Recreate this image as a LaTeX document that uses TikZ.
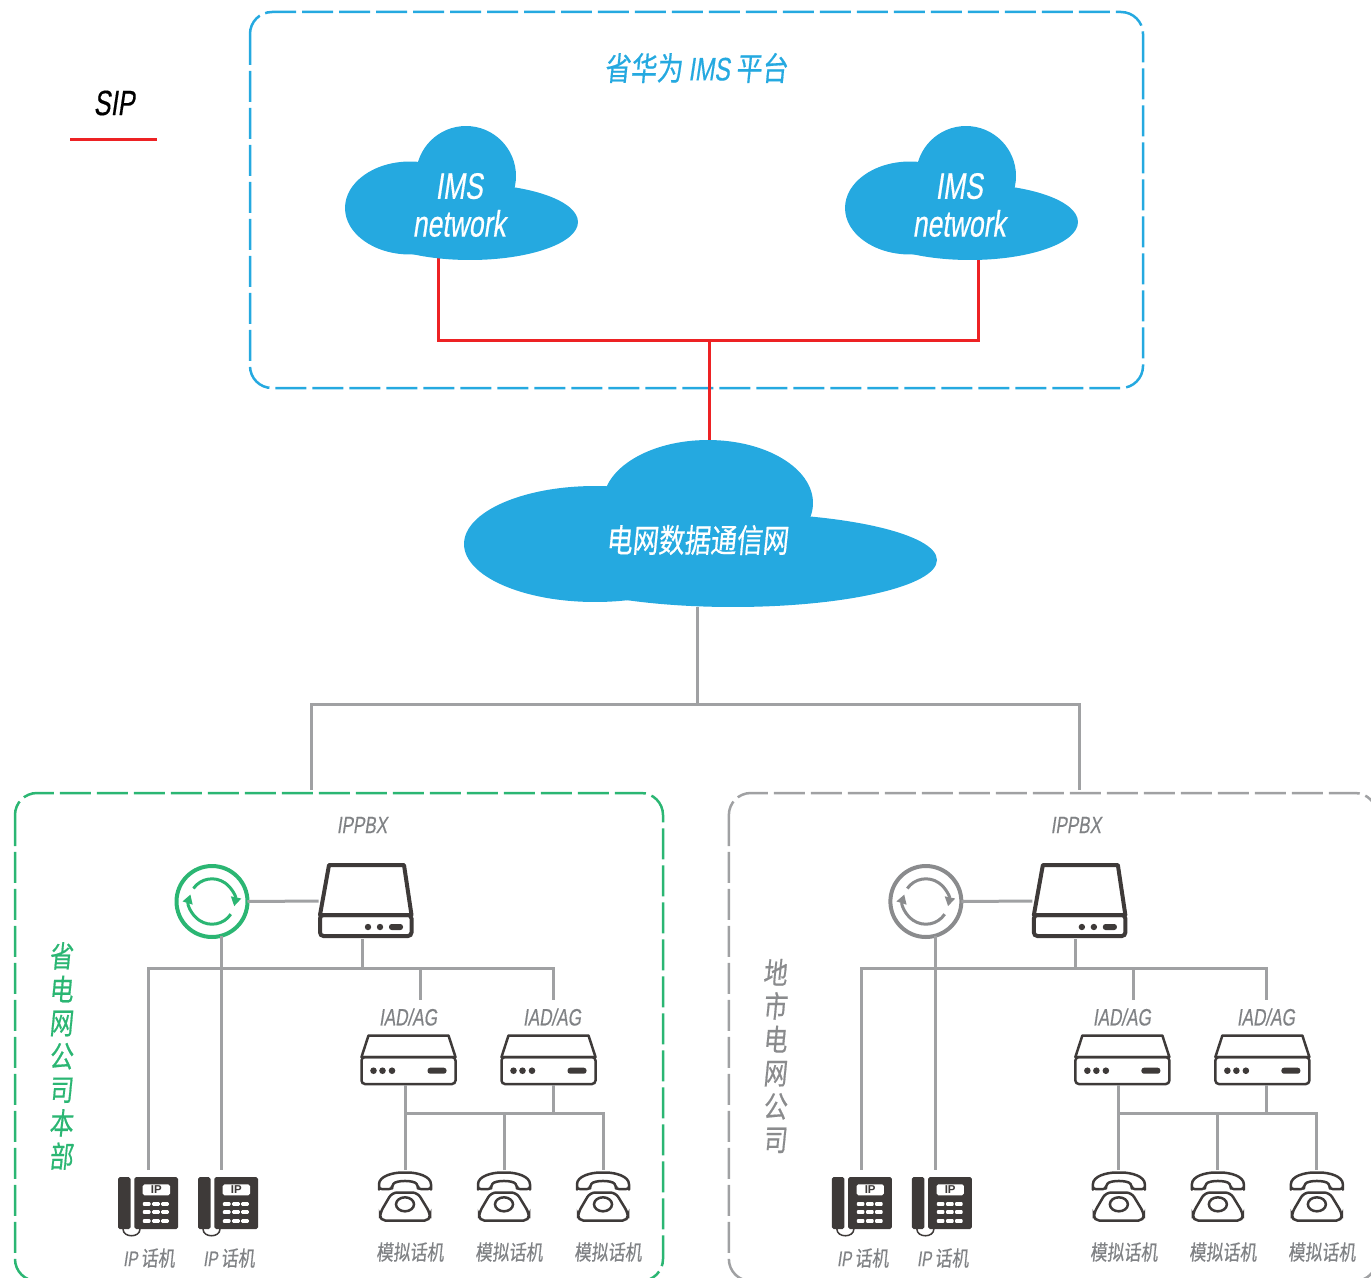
\documentclass[tikz,border=0pt]{standalone}
\usepackage{fontspec}
\usetikzlibrary{arrows.meta}

\newfontfamily\latfont{Liberation Sans}[FakeStretch=0.72,FakeSlant=0.15,FakeBold=0.4]
\newfontfamily\cjkfont{Noto Sans CJK SC}[FakeStretch=0.8,FakeSlant=0.1,FakeBold=0.5]
\newfontfamily\keyfont{Liberation Sans}

\definecolor{cloudblue}{HTML}{25A9E0}
\definecolor{sipred}{HTML}{ED2224}
\definecolor{wiregray}{HTML}{A0A1A3}
\definecolor{labelgray}{HTML}{808285}
\definecolor{hqgreen}{HTML}{2BB673}
\definecolor{syncgray}{HTML}{8A8B8D}
\definecolor{devdark}{HTML}{3E3A39}

\tikzset{
  wire/.style={draw=wiregray, line width=.06cm},
  sipline/.style={draw=sipred, line width=.06cm},
  panel/.style={line width=.05cm, rounded corners=.44cm, dash pattern=on .62cm off .12cm},
  slot/.style={inner sep=0pt, outer sep=0pt},
  devlabel/.style={text=labelgray, font=\latfont\fontsize{13.5}{15}\selectfont},
  setlabel/.style={text=labelgray, font=\cjkfont\fontsize{12}{14}\selectfont},
  cloudlabel/.style={text=white, align=center, font=\latfont\fontsize{21}{21.5}\selectfont},
  sidelabel/.style={align=center, font=\cjkfont\fontsize{17}{19}\selectfont},
  imscloud/.pic={
    \fill [cloudblue] (-51,15) ellipse [x radius=1.3cm, y radius=.93cm];
    \fill [cloudblue] (5,-17) circle [radius=1cm];
    \fill [cloudblue] (9,29) ellipse [x radius=2.16cm, y radius=.76cm];
  },
  gridcloud/.pic={
    \fill [cloudblue] (595,544) ellipse [x radius=2.62cm, y radius=1.16cm];
    \fill [cloudblue] (708,503) ellipse [x radius=2.1cm, y radius=1.26cm];
    \fill [cloudblue] (733,560) ellipse [x radius=4.08cm, y radius=.94cm];
  },
  pbxset/.pic={
    \draw [devdark, line width=.08cm, line join=round] (-37,-36) -- (38,-36) -- (45.5,14) -- (-46,14) -- cycle;
    \draw [devdark, line width=.08cm, rounded corners=2pt] (-46,14) rectangle (45.5,35);
    \fill [devdark] (2,26) circle [radius=.064cm] (14,26) circle [radius=.064cm];
    \fill [devdark, rounded corners=1.5pt] (23,23) rectangle (37,29);
  },
  iadset/.pic={
    \draw [devdark, line width=.05cm, line join=round] (-40,-24.5) -- (40,-24.5) -- (47,-3) -- (-47,-3) -- cycle;
    \draw [devdark, line width=.05cm, rounded corners=2pt] (-47,-3) rectangle (47,24);
    \fill [devdark] (-35,10.7) circle [radius=.066cm] (-26,10.7) circle [radius=.066cm] (-16.5,10.7) circle [radius=.066cm];
    \fill [devdark, rounded corners=1.5pt] (19,7.7) rectangle (38,13.7);
  },
  ipset/.pic={
    \fill [devdark, rounded corners=1pt] (-30,-26) rectangle (-17.5,26);
    \fill [devdark, rounded corners=1pt] (-13.7,-26) rectangle (30,26);
    \draw [devdark, line width=.03cm] (-25,26) .. controls (-25,35) and (-8,35) .. (-8,26);
    \fill [white, rounded corners=1pt] (-5.3,-18.7) rectangle (22,-7.7);
    \node [slot, text=devdark, font=\keyfont\bfseries\fontsize{6.5}{7}\selectfont] (screen) at (8.3,-13.2) {IP};
    \foreach \keyx in {-1.3,8,17}
      \foreach \keyy in {1,9,18}
        \fill [white, rounded corners=.5pt] (\keyx-3.8,\keyy-1.8) rectangle (\keyx+3.8,\keyy+1.8);
  },
  analogset/.pic={
    \draw [devdark, line width=.05cm, line join=round, rounded corners=1.5pt]
      (-26,-9) .. controls (-26,-20) and (-12,-23.5) .. (0,-23.5) .. controls (12,-23.5) and (26,-20) .. (26,-9)
      -- (26,-7) -- (13,-7) -- (13,-10) .. controls (9,-16) and (-9,-16) .. (-13,-10) -- (-13,-7) -- (-26,-7) -- cycle;
    \draw [devdark, line width=.05cm, rounded corners=3pt] (-13,-3.5) -- (12.5,-3.5) -- (25,17) -- (25,24.5) -- (-25,24.5) -- (-25,17) -- cycle;
    \draw [devdark, line width=.05cm] (0,8.3) ellipse [x radius=.18cm, y radius=.14cm];
  },
  syncset/.pic={
    \draw [syncink, line width=.06cm, -{Triangle[width=.2cm, length=.18cm]}]
      (145:.454cm) arc [start angle=145, end angle=-12, radius=.454cm];
    \draw [syncink, line width=.06cm, -{Triangle[width=.2cm, length=.18cm]}]
      (-34:.454cm) arc [start angle=-34, end angle=-198, radius=.454cm];
  }
}

% one company site, drawn at the left position and shifted
\newcommand{\officepanel}[5]{
  \begin{scope}[xshift=#1, name prefix=#2-]
    \colorlet{syncink}{#4}
    \draw [panel, #3] (15,793) rectangle (663,1281);
    \node [sidelabel, text=#4] (side) at (61,1056) {#5};
    %Exchange
    \node [devlabel] (pbxlabel) at (362,825) {IPPBX};
    \node [slot, minimum width=1.9cm, minimum height=1.52cm] (pbx) at (366,901) {};
    \pic (pbxart) at (pbx) {pbxset};
    \node [slot, circle, draw=syncink, line width=.08cm, minimum size=1.42cm] (sync) at (212,901.5) {};
    \pic (syncart) at (sync) {syncset};
    %Gateways
    \node [devlabel] (iadalabel) at (408,1017) {IAD/AG};
    \node [devlabel] (iadblabel) at (552,1017) {IAD/AG};
    \node [slot, minimum width=1.9cm, minimum height=1cm] (iada) at (408.5,1060) {};
    \node [slot, minimum width=1.9cm, minimum height=1cm] (iadb) at (548.5,1060) {};
    \pic (iadaart) at (iada) {iadset};
    \pic (iadbart) at (iadb) {iadset};
    %IP phones
    \node [slot, minimum width=1.2cm, minimum height=1.32cm] (ipa) at (148,1203) {};
    \node [slot, minimum width=1.2cm, minimum height=1.32cm] (ipb) at (228,1203) {};
    \pic (ipaart) at (ipa) {ipset};
    \pic (ipbart) at (ipb) {ipset};
    \node [setlabel] (ipalabel) at (149,1258) {{\latfont IP}\,话机};
    \node [setlabel] (ipblabel) at (229,1258) {{\latfont IP}\,话机};
    %Analog phones
    \node [slot, minimum width=1.08cm, minimum height=1.04cm] (anaa) at (405,1196) {};
    \node [slot, minimum width=1.08cm, minimum height=1.04cm] (anab) at (504,1196) {};
    \node [slot, minimum width=1.08cm, minimum height=1.04cm] (anac) at (603,1196) {};
    \pic (anaaart) at (anaa) {analogset};
    \pic (anabart) at (anab) {analogset};
    \pic (anacart) at (anac) {analogset};
    \node [setlabel] (anaalabel) at (410,1252) {模拟话机};
    \node [setlabel] (anablabel) at (509,1252) {模拟话机};
    \node [setlabel] (anaclabel) at (608,1252) {模拟话机};
    %Wiring
    \coordinate (bus) at (362,968);
    \coordinate (dropa) at (420,1000);
    \coordinate (dropb) at (553,1000);
    \coordinate (lan) at (553,1113);
    \draw [wire] (sync.east) -- (pbx.west);
    \draw [wire] (bus |- pbx.south) -- (bus);
    \draw [wire] (ipa.north) |- (bus);
    \draw [wire] (bus) -| (dropa);
    \draw [wire] (bus) -| (dropb);
    \draw [wire] (sync.-74) -- (sync.-74 |- ipb.north);
    \draw [wire] (lan |- iadb.south) -- (lan);
    \draw [wire] (anaa.north) -- (anaa.north |- iada.south);
    \draw [wire] (anab.north) -- (anab.north |- lan);
    \draw [wire] (anaa.north |- lan) -| (anac.north);
  \end{scope}
}

\begin{document}
\begin{tikzpicture}[x=.02cm, y=-.02cm]
        \useasboundingbox (0,0) rectangle (1371,1277);
        \clip (0,0) rectangle (1371,1277);

        %Legend
        \node [text=black, font=\latfont\fontsize{20}{22}\selectfont] (sip) at (114,103) {SIP};
        \coordinate (sipa) at (70,139.5);
        \coordinate (sipb) at (157,139.5);
        \draw [sipline] (sipa) -- (sipb);

        %Platform
        \draw [panel, cloudblue] (250,12) rectangle (1143,388);
        \node [text=cloudblue, font=\cjkfont\fontsize{18.5}{20}\selectfont] (platform) at (696,68) {省华为 {\latfont IMS} 平台};

        %Red links
        \coordinate (imslport) at (438,250);
        \coordinate (imsrport) at (978,250);
        \coordinate (gridtop) at (709,445);
        \coordinate (sipjoin) at (709,340);
        \draw [sipline] (imslport) |- (sipjoin);
        \draw [sipline] (imsrport) |- (sipjoin);
        \draw [sipline] (gridtop) -- (sipjoin);

        %Clouds
        \pic (imslart) at (461,193) {imscloud};
        \pic (imsrart) at (961,193) {imscloud};
        \pic (gridart) at (0,0) {gridcloud};
        \node [cloudlabel] (imsl) at (459,205) {IMS\\network};
        \node [cloudlabel] (imsr) at (959,205) {IMS\\network};
        \node [text=white, font=\cjkfont\fontsize{18.5}{20}\selectfont] (grid) at (697,540) {电网数据通信网};

        %Sites
        \officepanel{0cm}{hq}{hqgreen}{hqgreen}{省\\电\\网\\公\\司\\本\\部}
        \officepanel{14.28cm}{city}{wiregray}{syncgray}{地\\市\\电\\网\\公\\司}

        %Grey links
        \coordinate (gridfoot) at (697,607);
        \coordinate (trunk) at (697,704);
        \coordinate (hqtop) at (311,790);
        \coordinate (citytop) at (1079,790);
        \draw [wire] (gridfoot) -- (trunk);
        \draw [wire] (hqtop) |- (trunk);
        \draw [wire] (citytop) |- (trunk);
\end{tikzpicture}
\end{document}
